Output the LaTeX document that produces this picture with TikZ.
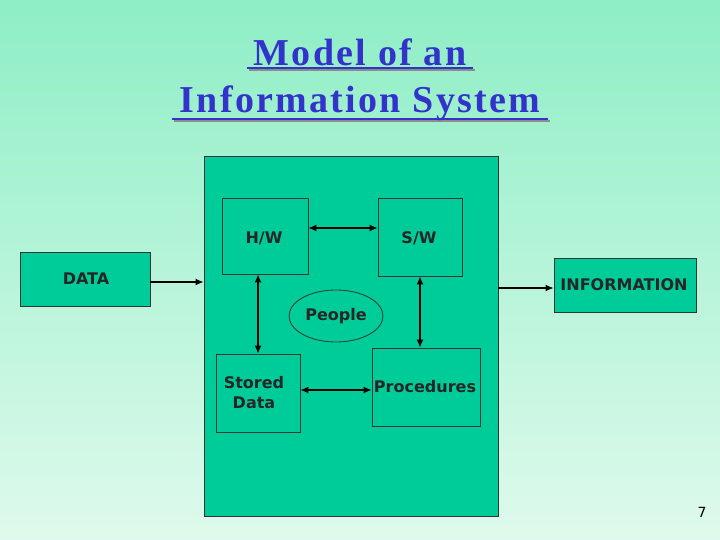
\documentclass[tikz,border=0pt]{standalone}
\usepackage{fontspec}
\setmainfont{Liberation Serif}
\newfontfamily\vsans{DejaVu Sans}
\usetikzlibrary{arrows.meta,shapes.geometric}
\definecolor{bgtop}{HTML}{8EEEC6}
\definecolor{bgbot}{HTML}{DFFAEC}
\definecolor{boxg}{HTML}{00CC99}
\definecolor{ttl}{HTML}{3333CC}
\tikzset{
  bx/.style={draw=black!80,fill=boxg,line width=0.8pt,inner sep=0pt},
  lbl/.style={font=\vsans\bfseries\fontsize{16}{20}\selectfont,text=black!85,align=center,inner sep=0pt},
  dbl/.style={{Latex[length=8pt,width=7pt]}-{Latex[length=8pt,width=7pt]},line width=1.3pt},
  one/.style={-{Latex[length=8pt,width=7pt]},line width=1.3pt},
  tt/.style={font=\bfseries\fontsize{38}{44}\selectfont\addfontfeatures{LetterSpace=6},inner sep=0pt}
}
\begin{document}
\begin{tikzpicture}[x=1pt,y=-1pt]
\shade[top color=bgtop,bottom color=bgbot] (0,0) rectangle (720,540);
\useasboundingbox (0,0) rectangle (720,540);
% title
\foreach \t/\y/\w in {Model of an/52/226,Information System/103/376}{
  \draw[black!45,line width=1.6pt] (362-\w/2,\y+18) -- (362+\w/2,\y+18);
  \draw[ttl,line width=1.6pt] (360-\w/2,\y+16) -- (360+\w/2,\y+16);
}
\node[tt,text=ttl] (t1) at (360,52) {Model of an};
\node[tt,text=ttl] (t2) at (360,103) {Information System};
\node[bx,minimum width=294pt,minimum height=360pt] (main) at (351,336) {};
\node[bx,minimum width=86pt,minimum height=76pt] (hw) at (265,236) {};
\node[bx,minimum width=84pt,minimum height=78pt] (sw) at (420,237) {};
\node[bx,minimum width=130pt,minimum height=54pt] (data) at (85,279) {};
\node[bx,minimum width=142pt,minimum height=54pt] (info) at (625,285) {};
\node[bx,ellipse,minimum width=94pt,minimum height=52pt] (ppl) at (336,316) {};
\node[bx,minimum width=84pt,minimum height=78pt] (sd) at (258,393) {};
\node[bx,minimum width=108pt,minimum height=78pt] (proc) at (426,387) {};
\node[lbl] (thw) at (264,238) {H/W};
\node[lbl] (tsw) at (419,238) {S/W};
\node[lbl] (tdata) at (86,279) {DATA};
\node[lbl] (tinfo) at (624,285) {INFORMATION};
\node[lbl] (tppl) at (336,316) {People};
\node[lbl] (tsd) at (254,393) {Stored\\Data};
\node[lbl] (tproc) at (425,387) {Procedures};
\draw[dbl] (hw.east|-0,228) -- (sw.west|-0,228);
\draw[dbl] (hw.south-|258,0) -- (sd.north-|258,0);
\draw[dbl] (sw.south-|420,0) -- (proc.north-|420,0);
\draw[dbl] (sd.east|-0,390) -- (proc.west|-0,390);
\draw[one] (data.east|-0,282) -- (main.west|-0,282);
\draw[one] (main.east|-0,288) -- (info.west|-0,288);
\node[font=\vsans\fontsize{14}{16}\selectfont] (pg) at (702,512) {7};
\end{tikzpicture}
\end{document}
